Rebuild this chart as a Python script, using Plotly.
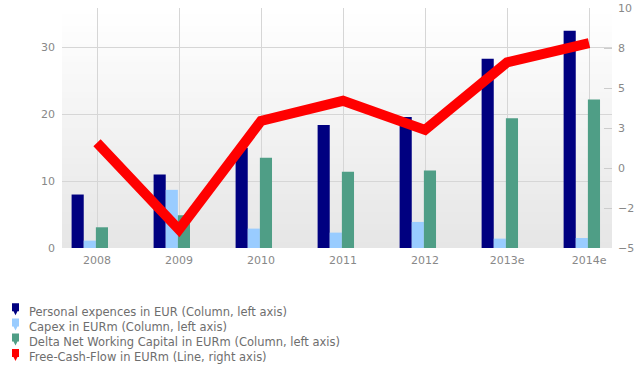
import plotly.graph_objects as go

categories = ["2008", "2009", "2010", "2011", "2012", "2013e", "2014e"]
personal = [8.0, 11.0, 15.0, 18.4, 19.6, 28.3, 32.5]
capex = [1.1, 8.7, 2.9, 2.3, 3.9, 1.4, 1.5]
delta_nwc = [3.1, 4.9, 13.5, 11.4, 11.6, 19.4, 22.2]
fcf = [1.58, -3.85, 2.94, 4.2, 2.38, 6.6, 7.8]

left_ticks = [0, 10, 20, 30]
right_tickvals = [-5, -2.5, 0, 2.5, 5, 7.5, 10]
right_ticktext = ["\u22125", "\u22122", "0", "3", "5", "8", "10"]

names = [
    "Personal expences in EUR (Column, left axis)",
    "Capex in EURm (Column, left axis)",
    "Delta Net Working Capital in EURm (Column, left axis)",
    "Free-Cash-Flow in EURm (Line, right axis)",
]
colors = ["#000080", "#99ccff", "#4f9e86", "#ff0000"]

W, H = 643, 370
PL, PR, PT, PB = 62, 612, 8, 248  # plot area in pixels


def px_x(px):
    return (px - PL) / (PR - PL)


def px_y(py):
    return (PB - py) / (PB - PT)


fig = go.Figure()

bar_series = [personal, capex, delta_nwc]
offsets = [-0.31, -0.162, -0.014]
for vals, name, col, off in zip(bar_series, names[:3], colors[:3], offsets):
    fig.add_trace(go.Bar(
        x=categories, y=vals, name=name, marker_color=col,
        marker_line_width=0, width=0.148, offset=off,
        showlegend=False, yaxis="y",
    ))

fig.add_trace(go.Scatter(
    x=categories, y=fcf, name=names[3], mode="lines",
    line=dict(color=colors[3], width=10), yaxis="y2", showlegend=False,
))

# gradient plot background
shapes = []
nb = 40
for i in range(nb):
    t = i / (nb - 1)
    c = int(round(0xe6 + (0xff - 0xe6) * t))
    shapes.append(dict(
        type="rect", xref="paper", yref="paper", layer="below",
        x0=0, x1=1, y0=i / nb, y1=(i + 1) / nb,
        fillcolor=f"rgb({c},{c},{c})", line=dict(width=0),
    ))

# manual legend
annotations = []
row_y = [311.7, 326.9, 342.1, 357.4]
for name, col, ry in zip(names, colors, row_y):
    x0, x1 = 12, 19
    yt, yb = ry - 8.5, ry - 0.5
    path = (f"M {px_x(x0)} {px_y(yt)} L {px_x(x1)} {px_y(yt)} L {px_x(x1)} {px_y(yb)} "
            f"L {px_x(17.5)} {px_y(yb)} L {px_x(15.5)} {px_y(yb + 4)} L {px_x(13.5)} {px_y(yb)} "
            f"L {px_x(x0)} {px_y(yb)} Z")
    shapes.append(dict(type="path", xref="paper", yref="paper", path=path,
                       fillcolor=col, line=dict(width=0), layer="above"))
    annotations.append(dict(
        x=px_x(27), y=px_y(ry), xref="paper", yref="paper",
        text=name, showarrow=False, xanchor="left", yanchor="middle",
        font=dict(family="DejaVu Sans", size=11.5, color="#6e6e6e"),
    ))

fig.update_layout(
    width=W, height=H,
    margin=dict(l=PL, r=W - PR, t=PT, b=H - PB, pad=0, autoexpand=False),
    paper_bgcolor="white", plot_bgcolor="white",
    font=dict(family="DejaVu Sans", size=11, color="#888888"),
    barmode="group", hovermode=False,
    shapes=shapes, annotations=annotations,
    xaxis=dict(
        type="category", range=[-0.427, 6.28], showgrid=True,
        gridcolor="#d6d6d6", gridwidth=1, ticks="", showline=False,
        zeroline=False, ticklabelstandoff=4, automargin=False,
        tickfont=dict(size=11, color="#888888"),
    ),
    yaxis=dict(
        range=[0, 35.9], tickvals=left_ticks, showgrid=True,
        gridcolor="#d6d6d6", gridwidth=1, zeroline=False, showline=False,
        ticks="", ticklabelstandoff=6, automargin=False,
        tickfont=dict(size=11, color="#888888"),
    ),
    yaxis2=dict(
        overlaying="y", side="right", range=[-5, 10],
        tickvals=right_tickvals, ticktext=right_ticktext,
        showgrid=False, zeroline=False, showline=False,
        ticks="inside", ticklen=8, tickcolor="#cccccc", tickwidth=1,
        ticklabelstandoff=5, automargin=False,
        tickfont=dict(size=11, color="#888888"),
    ),
    showlegend=False,
)

fig.write_html("out.html")
